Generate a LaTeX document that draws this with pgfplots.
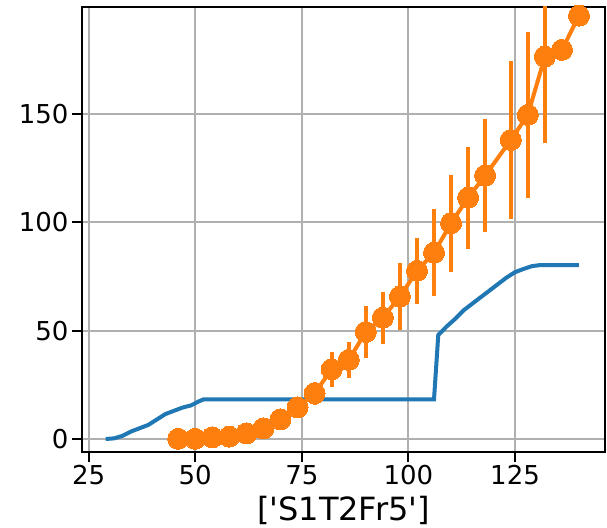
\documentclass[border=0pt]{standalone}
\usepackage{pgfplots}
\pgfplotsset{compat=1.18}
\usepackage{fontspec}
\setmainfont{DejaVu Sans}
\definecolor{mplblue}{HTML}{1F77B4}
\definecolor{mplorange}{HTML}{FF7F0E}
\begin{document}
\begin{tikzpicture}
\begin{axis}[
  scale only axis, width=523pt, height=445pt,
  xmin=23.45, xmax=146.1, ymin=-6, ymax=199.4,
  xtick={25,50,75,100,125}, ytick={0,50,100,150},
  grid=major, grid style={color=black!31, line width=2pt},
  axis line style={line width=2pt},
  tick align=outside, major tick length=10pt,
  tick style={line width=2pt, black},
  xtick pos=lower, ytick pos=left,
  ticklabel style={font=\fontsize{26}{31}\selectfont},
  /pgf/number format/assume math mode=true,
  xlabel={[\textquotesingle S1T2Fr5\textquotesingle]},
  xlabel style={font=\fontsize{32}{38}\selectfont, at={(rel axis cs:0.5,0)}, anchor=base, yshift=-68pt},
]
\addplot[color=mplblue, line width=4pt, mark=none] coordinates {
(29,0) (31,0.3) (33,1.5) (35,3.5) (37,5) (39,6.5) (41,9) (43,11.5) (45,13)
(47,14.5) (49,15.5) (51,17.5) (52,18.3) (60,18.3) (80,18.3) (100,18.3) (106,18.3)
(107,48) (109,52) (111,55.5) (113,59.5) (115,62.5) (117,65.5) (119,68.5)
(121,71.5) (123,74.5) (125,77) (127,78.5) (129,79.8) (131,80.3) (140,80.3)
};
\addplot[color=mplorange, line width=4pt, mark=*, mark size=10.5pt,
  mark options={fill=mplorange, draw=mplorange, line width=0pt},
  error bars/.cd, y dir=both, y explicit,
  error bar style={line width=4pt, color=mplorange}, error mark=none]
  table[x=x, y=y, y error=e] {
x y e
46 0.1 0
50 0.1 0
54 0.8 0
58 1.1 0
62 2.6 0
66 4.9 0
70 9.1 0
74 14.6 1
78 21.1 5.4
82 32.2 8
86 36.5 8.4
90 49.4 12
94 56 12
98 65.7 15.4
102 77.6 15.2
106 86 20
110 99.6 22.3
114 111.4 23.5
118 121.6 26
124 138 36.5
128 149.6 38.3
132 176.5 39.7
136 179.6 0
140 195.4 0
};
\end{axis}
\path ([shift={(-82pt,-74pt)}]current axis.south west) rectangle ([shift={(2pt,7pt)}]current axis.north east);
\end{tikzpicture}
\end{document}
